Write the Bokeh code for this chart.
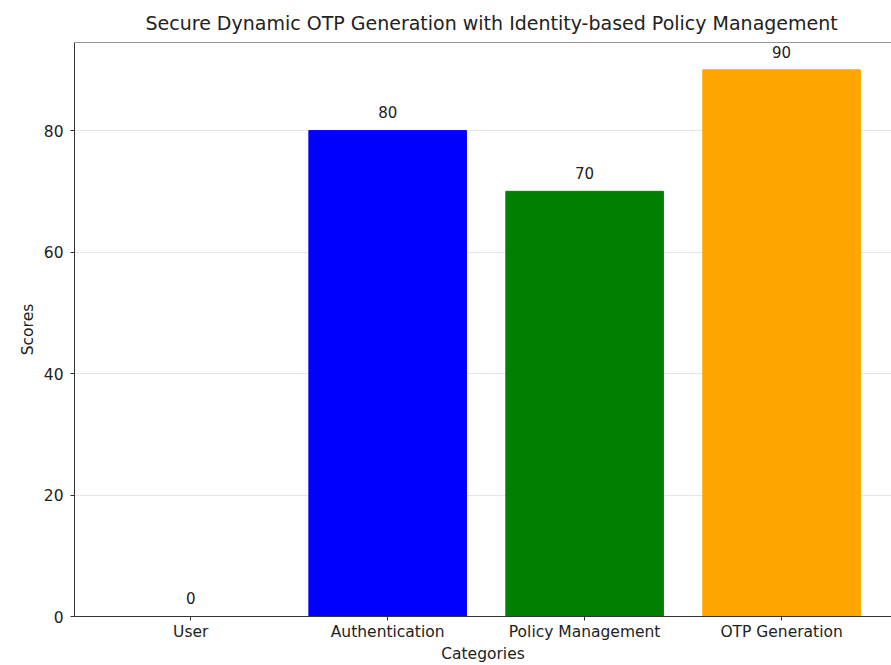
from bokeh.plotting import figure
from bokeh.models import Range1d, FixedTicker, Span, ColumnDataSource, LabelSet
from bokeh.core.properties import value
from bokeh.embed import file_html
from bokeh.resources import INLINE

categories = ["User", "Authentication", "Policy Management", "OTP Generation"]
scores = [0, 80, 70, 90]
colors = ["#ff0000", "#0000ff", "#008000", "#ffa500"]
y_ticks = [0, 20, 40, 60, 80]

xs = list(range(len(categories)))
src = ColumnDataSource(dict(x=xs, top=scores, color=colors,
                            label=[str(s) for s in scores],
                            ly=[s + 2 for s in scores]))

ymax = max(scores) * 1.05

p = figure(width=891, height=665, output_backend="svg", toolbar_location=None,
           x_range=Range1d(-0.59, 3.558), y_range=Range1d(0, ymax),
           min_border_left=74, min_border_right=0, min_border_top=42, min_border_bottom=49)

p.title.text = "Secure Dynamic OTP Generation with Identity-based Policy Management"
p.title.align = "left"
p.title.text_font = "DejaVu Sans"
p.title.text_font_size = "19px"
p.title.text_font_style = "normal"
p.title.text_color = "#222222"
p.title.offset = 71
p.title.standoff = 18

p.vbar(x="x", top="top", width=0.8, color="color", source=src)

labels = LabelSet(x="x", y="ly", text="label", source=src, text_align="center",
                  text_baseline="bottom", text_font=value("DejaVu Sans"),
                  text_font_size=value("15px"), text_color="#222222")
p.add_layout(labels)

p.outline_line_color = None
p.add_layout(Span(location=ymax, dimension="width", line_color="#333333", line_width=1))

p.xgrid.visible = False
p.ygrid.ticker = FixedTicker(ticks=y_ticks)
p.ygrid.grid_line_color = "#e6e6e6"
p.ygrid.grid_line_width = 1

p.xaxis.ticker = FixedTicker(ticks=xs)
p.xaxis.major_label_overrides = {i: c for i, c in enumerate(categories)}
p.yaxis.ticker = FixedTicker(ticks=y_ticks)

for ax in (p.xaxis[0], p.yaxis[0]):
    ax.axis_line_color = "#333333"
    ax.major_tick_line_color = "#333333"
    ax.major_tick_in = 0
    ax.major_tick_out = 4
    ax.minor_tick_line_color = None
    ax.major_label_text_font = "DejaVu Sans"
    ax.major_label_text_font_size = "15.5px"
    ax.major_label_text_color = "#222222"
    ax.axis_label_text_font = "DejaVu Sans"
    ax.axis_label_text_font_size = "15.5px"
    ax.axis_label_text_font_style = "normal"
    ax.axis_label_text_color = "#222222"

p.xaxis.axis_label = "Categories"
p.yaxis.axis_label = "Scores"
p.xaxis.major_label_standoff = 2
p.xaxis.axis_label_standoff = 1
p.yaxis.major_label_standoff = 7
p.yaxis.axis_label_standoff = 4

open("out.html", "w").write(file_html(p, INLINE))
